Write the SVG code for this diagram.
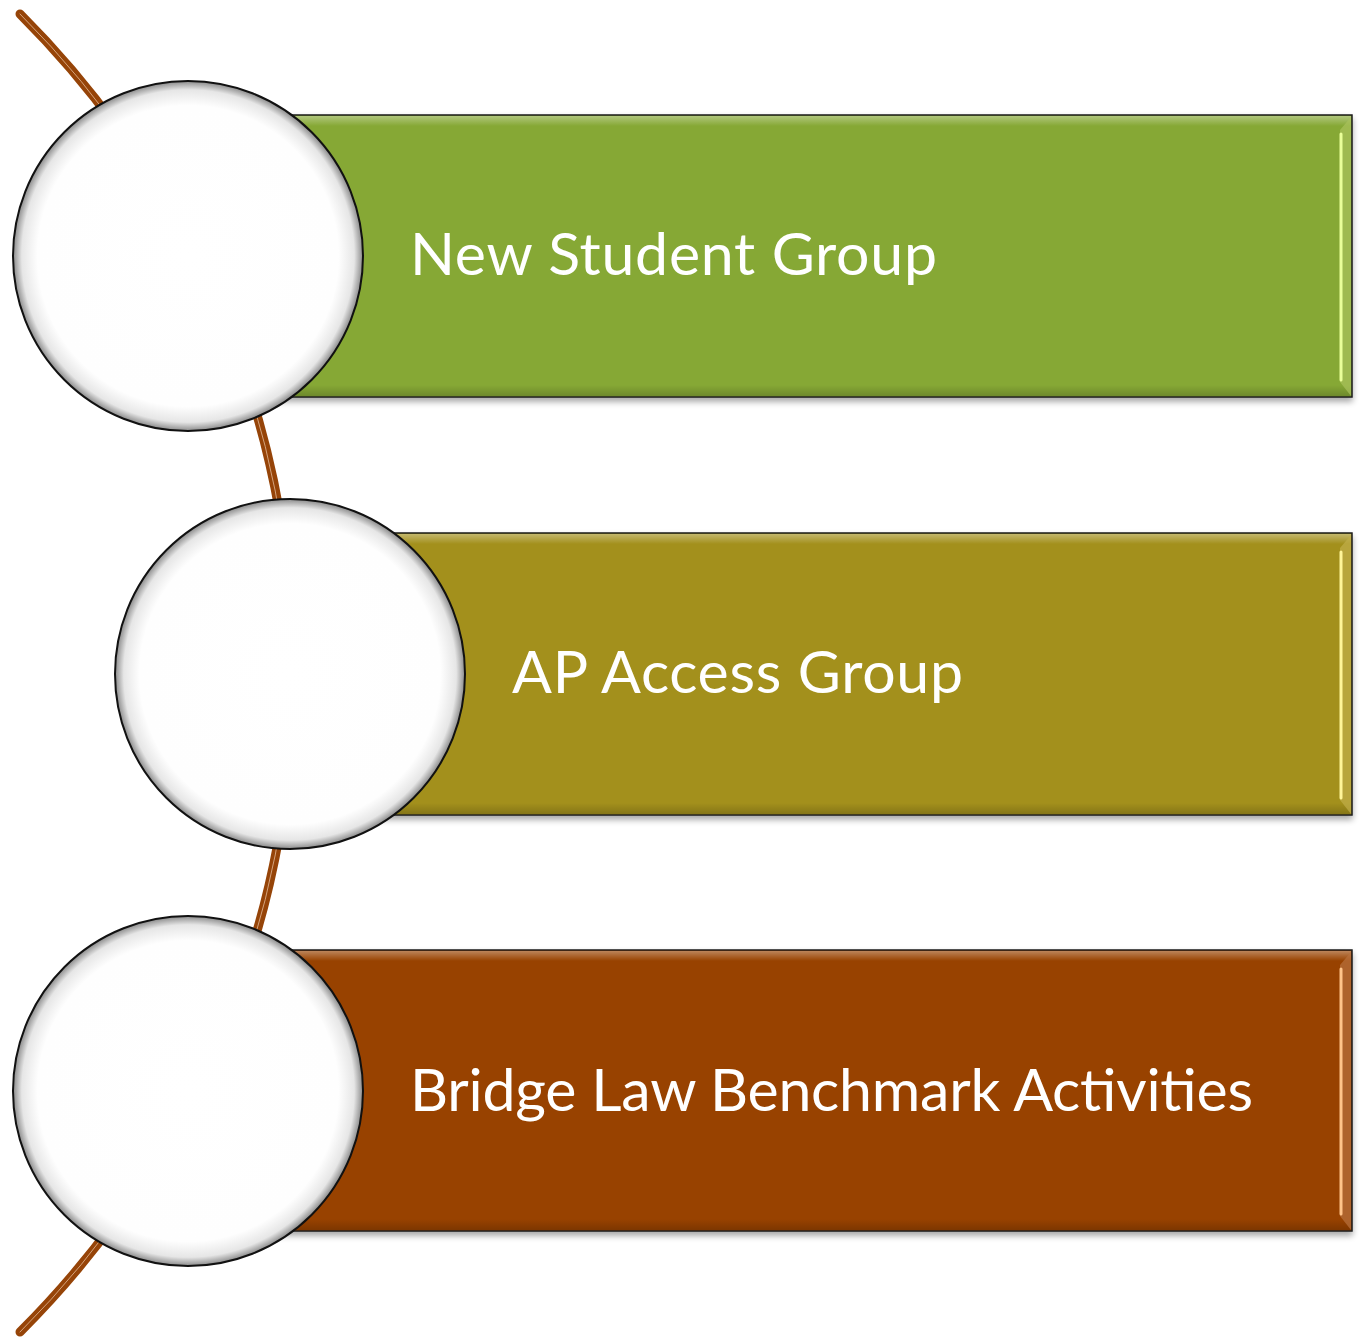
<svg xmlns="http://www.w3.org/2000/svg" width="1361" height="1340" viewBox="0 0 1361 1340">
<defs>
<radialGradient id="ball" cx="50%" cy="50%" r="50%">
<stop offset="0" stop-color="#ffffff"/>
<stop offset="0.86" stop-color="#fefefe"/>
<stop offset="0.95" stop-color="#e6e6e6"/>
<stop offset="1" stop-color="#8a8a8a"/>
</radialGradient>
<filter id="sh" x="-5%" y="-10%" width="110%" height="125%">
<feGaussianBlur in="SourceAlpha" stdDeviation="3"/>
<feOffset dx="0" dy="4"/>
<feComponentTransfer><feFuncA type="linear" slope="0.35"/></feComponentTransfer>
<feMerge><feMergeNode/><feMergeNode in="SourceGraphic"/></feMerge>
</filter>
<linearGradient id="topHi" x1="0" y1="0" x2="0" y2="1">
<stop offset="0" stop-color="#ffffff" stop-opacity="0.35"/>
<stop offset="1" stop-color="#ffffff" stop-opacity="0"/>
</linearGradient>
<linearGradient id="botSh" x1="0" y1="0" x2="0" y2="1">
<stop offset="0" stop-color="#000000" stop-opacity="0"/>
<stop offset="1" stop-color="#000000" stop-opacity="0.3"/>
</linearGradient>
</defs>
<style>
.bar{stroke:#1e1e1e;stroke-width:1.5}
.lbl{font-family:Lato,"Open Sans","Liberation Sans",sans-serif;font-size:59px;fill:#ffffff}
.ball{fill:url(#ball);stroke:#111;stroke-width:2}
.hl{fill:none;stroke-width:3;stroke-linecap:round}
</style>
<g id="connectors">
<path d="M 20 14 A 931 931 0 0 1 20 1332" fill="none" stroke="#964408" stroke-width="9" stroke-linecap="round"/>
<path d="M 20 14 A 931 931 0 0 1 20 1332" fill="none" stroke="#E9C3A3" stroke-width="1" stroke-opacity="0.75" stroke-linecap="round"/>
</g>
<g id="node1">
<g filter="url(#sh)">
<rect class="bar" x="250" y="115" width="1102" height="282" fill="#86A834"/>
</g>
<rect x="251" y="116" width="1100" height="10" fill="url(#topHi)"/>
<rect x="251" y="385" width="1100" height="11" fill="url(#botSh)" opacity="0.6"/>
<polygon points="1340,130 1351,117 1351,396 1340,382" fill="#a9c25d" opacity="0.7"/>
<line class="hl" x1="1341" y1="134" x2="1341" y2="380" stroke="#eaff9a"/>
<text class="lbl" x="410" y="275" textLength="527">New Student Group</text>
</g>
<g id="node2">
<g filter="url(#sh)">
<rect class="bar" x="350" y="533" width="1002" height="282" fill="#A3901C"/>
</g>
<rect x="351" y="534" width="1000" height="10" fill="url(#topHi)"/>
<rect x="351" y="803" width="1000" height="11" fill="url(#botSh)" opacity="0.6"/>
<polygon points="1340,548 1351,535 1351,814 1340,800" fill="#c0ae4a" opacity="0.7"/>
<line class="hl" x1="1341" y1="552" x2="1341" y2="798" stroke="#fff59a"/>
<text class="lbl" x="512" y="693" textLength="451">AP Access Group</text>
</g>
<g id="node3">
<g filter="url(#sh)">
<rect class="bar" x="250" y="950" width="1102" height="281" fill="#984205"/>
</g>
<rect x="251" y="951" width="1100" height="10" fill="url(#topHi)"/>
<rect x="251" y="1219" width="1100" height="11" fill="url(#botSh)" opacity="0.6"/>
<polygon points="1340,965 1351,952 1351,1230 1340,1216" fill="#b8723e" opacity="0.7"/>
<line class="hl" x1="1341" y1="969" x2="1341" y2="1214" stroke="#ffc48a"/>
<text class="lbl" x="410" y="1111" textLength="843">Bridge Law Benchmark Activities</text>
</g>
<g id="circle1"><circle class="ball" cx="188" cy="256" r="175"/></g>
<g id="circle2"><circle class="ball" cx="290" cy="674" r="175"/></g>
<g id="circle3"><circle class="ball" cx="188" cy="1091" r="175"/></g>
</svg>
